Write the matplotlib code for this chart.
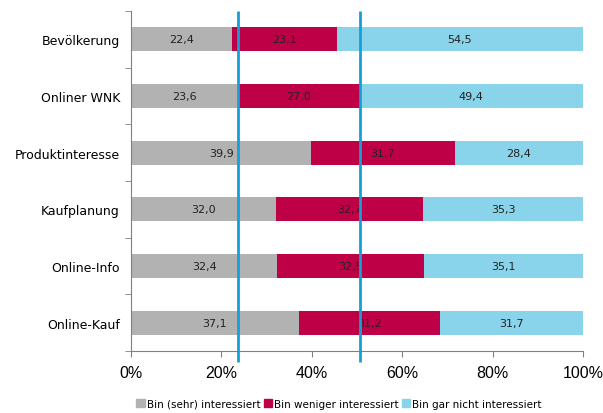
import numpy as np
import matplotlib
matplotlib.use("Agg")
import matplotlib.pyplot as plt
from matplotlib.patches import Patch

categories = ["Bevölkerung", "Onliner WNK", "Produktinteresse",
              "Kaufplanung", "Online-Info", "Online-Kauf"]
interessiert = [22.4, 23.6, 39.9, 32.0, 32.4, 37.1]
weniger = [23.1, 27.0, 31.7, 32.7, 32.5, 31.2]
gar_nicht = [54.5, 49.4, 28.4, 35.3, 35.1, 31.7]
series_names = ["Bin (sehr) interessiert", "Bin weniger interessiert",
                "Bin gar nicht interessiert"]
xticks = [0, 20, 40, 60, 80, 100]

colors = ["#b2b2b2", "#be0046", "#8ad4eb"]
line_color = "#159fd7"

fig = plt.figure(figsize=(6.03, 4.14), dpi=100)
ax = fig.add_axes([131 / 603, 1 - 352 / 414, 452 / 603, 340 / 414])

y = np.arange(len(categories))
left = np.zeros(len(categories))
for vals, col in zip([interessiert, weniger, gar_nicht], colors):
    vals = np.array(vals)
    ax.barh(y, vals, left=left, height=0.42, color=col, zorder=2)
    for yi, l, v in zip(y, left, vals):
        ax.text(l + v / 2, yi, f"{v:.1f}".replace(".", ","), ha="center",
                va="center", fontsize=8, color="#222222",
                family="DejaVu Sans", zorder=4)
    left += vals

# reference lines: Onliner WNK split points, reaching a bit below the x axis
ref1 = interessiert[1]
ref2 = interessiert[1] + weniger[1]
for xv in (ref1, ref2):
    ax.plot([xv, xv], [-0.5, len(categories) - 0.5 + 0.19], color=line_color,
            lw=2, zorder=5, clip_on=False, solid_capstyle="butt")

ax.set_xlim(0, 100)
ax.set_ylim(len(categories) - 0.5, -0.5)
ax.set_xticks(xticks)
ax.set_xticklabels([f"{t}%" for t in xticks], family="Liberation Sans",
                   fontsize=11.5)
ax.set_yticks(y)
ax.set_yticklabels(categories, family="DejaVu Sans", fontsize=9)
ax.tick_params(axis="y", length=0, pad=8)
ax.set_yticks(np.arange(len(categories) + 1) - 0.5, minor=True)
ax.tick_params(axis="y", which="minor", length=4, color="#808080")
ax.tick_params(axis="x", length=4, color="#808080", pad=6)

for s in ["top", "right"]:
    ax.spines[s].set_visible(False)
for s in ["left", "bottom"]:
    ax.spines[s].set_color("#808080")

handles = [Patch(color=c) for c in colors]
fig.legend(handles, series_names, loc="center",
           bbox_to_anchor=(339 / 603, 1 - 405 / 414),
           ncol=3, frameon=False, handlelength=0.8,
           handleheight=0.8, handletextpad=0.2, columnspacing=0.3,
           prop={"family": "DejaVu Sans", "size": 7.5})

fig.savefig("out.png", dpi=100)
